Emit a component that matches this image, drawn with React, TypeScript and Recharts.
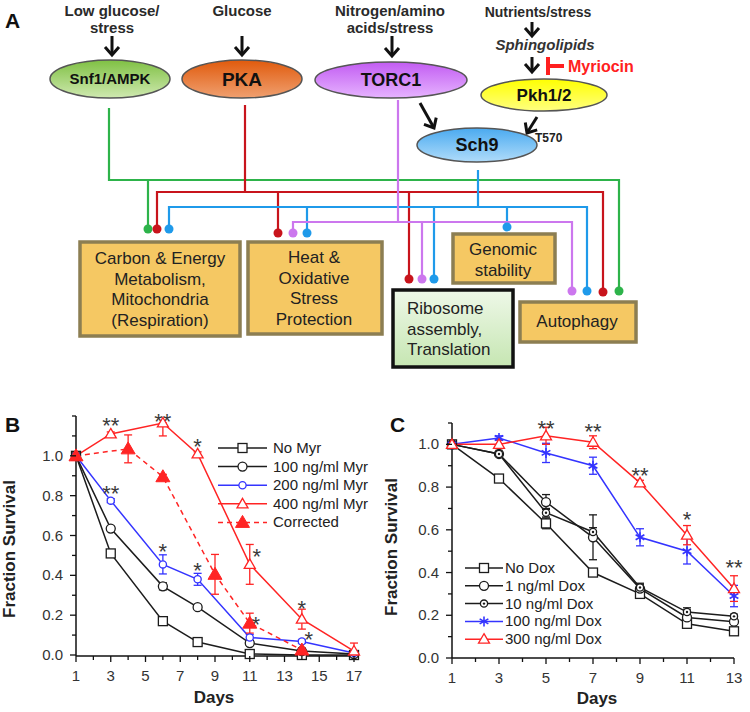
import React from "react";
import {
  ComposedChart,
  Line,
  Scatter,
  XAxis,
  YAxis,
  ErrorBar,
  Legend,
} from "recharts";

const FONT = "Arial, 'Liberation Sans', Helvetica, sans-serif";

type Err = number | [number, number] | null;

// ---- Panel B: myriocin ----
const daysB = [1, 3, 6, 8, 11, 14, 17];
const noMyr = [1.0, 0.51, 0.17, 0.065, 0.005, 0.0, 0.0];
const noMyrErr: Err[] = [null, 0.012, 0.015, 0.012, 0.01, null, null];
const myr100 = [1.0, 0.635, 0.345, 0.24, 0.06, 0.02, 0.005];
const myr100Err: Err[] = [null, 0.01, 0.018, 0.01, 0.01, null, null];
const myr200 = [1.0, 0.775, 0.455, 0.38, 0.088, 0.068, 0.01];
const myr200Err: Err[] = [null, 0.01, 0.048, 0.03, 0.015, 0.01, null];
const myr400 = [1.0, 1.11, 1.165, 1.01, 0.455, 0.18, 0.02];
const myr400Err: Err[] = [null, 0.01, [0.065, 0], 0.01, 0.1, 0.05, [0.02, 0.04]];
const daysCorr = [1, 4, 6, 9, 11, 14];
const corrected = [1.0, 1.035, 0.895, 0.405, 0.16, 0.025];
const correctedErr: Err[] = [null, 0.07, 0.012, 0.1, 0.05, 0.01];

const starsB = [
  { x: 3, y: 1.175, t: "**" },
  { x: 6, y: 1.2, t: "**" },
  { x: 8, y: 1.07, t: "*" },
  { x: 3, y: 0.835, t: "**" },
  { x: 6, y: 0.545, t: "*" },
  { x: 8, y: 0.45, t: "*" },
  { x: 11.4, y: 0.52, t: "*" },
  { x: 11.35, y: 0.18, t: "*" },
  { x: 14, y: 0.26, t: "*" },
  { x: 14.4, y: 0.105, t: "*" },
];

const xTicksB = [1, 2, 3, 4, 5, 6, 7, 8, 9, 10, 11, 12, 13, 14, 15, 16, 17];
const yTicksB = [0, 0.1, 0.2, 0.3, 0.4, 0.5, 0.6, 0.7, 0.8, 0.9, 1.0, 1.1, 1.2];

// ---- Panel C: doxorubicin ----
const daysC = [1, 3, 5, 7, 9, 11, 13];
const noDox = [1.0, 0.84, 0.63, 0.4, 0.3, 0.16, 0.125];
const noDoxErr: Err[] = [null, 0.012, 0.025, 0.012, 0.012, 0.012, 0.012];
const dox1 = [1.0, 0.955, 0.73, 0.565, 0.325, 0.19, 0.17];
const dox1Err: Err[] = [null, 0.01, 0.035, 0.105, 0.02, 0.035, 0.01];
const dox10 = [1.0, 0.955, 0.68, 0.59, 0.33, 0.215, 0.195];
const dox10Err: Err[] = [null, null, 0.02, 0.02, 0.02, 0.02, 0.01];
const dox100 = [1.0, 1.03, 0.96, 0.9, 0.565, 0.5, 0.29];
const dox100Err: Err[] = [null, 0.01, 0.045, 0.04, 0.04, 0.06, 0.05];
const dox300 = [1.0, 1.0, 1.04, 1.01, 0.82, 0.575, 0.325];
const dox300Err: Err[] = [null, 0.02, 0.04, 0.03, 0.012, 0.045, 0.06];

const starsC = [
  { x: 5, y: 1.1, t: "**" },
  { x: 7, y: 1.085, t: "**" },
  { x: 9, y: 0.88, t: "**" },
  { x: 11, y: 0.67, t: "*" },
  { x: 13, y: 0.445, t: "**" },
];

const xTicksC = [1, 2, 3, 4, 5, 6, 7, 8, 9, 10, 11, 12, 13];
const yTicksC = [0, 0.1, 0.2, 0.3, 0.4, 0.5, 0.6, 0.7, 0.8, 0.9, 1.0, 1.1];
const yLabelled = [0, 0.2, 0.4, 0.6, 0.8, 1.0];

const toRows = (days: number[], vals: number[], errs: Err[]) =>
  days.map((d, i) => ({ x: d, y: vals[i], e: errs[i] }));

const BLACK = "#1c1c1c";
const BLUE = "#3434ff";
const RED = "#ff2424";

const seriesB = [
  { name: "No Myr", rows: toRows(daysB, noMyr, noMyrErr), color: BLACK, marker: "square" },
  { name: "100 ng/ml Myr", rows: toRows(daysB, myr100, myr100Err), color: BLACK, marker: "circle" },
  { name: "200 ng/ml Myr", rows: toRows(daysB, myr200, myr200Err), color: BLUE, marker: "small" },
  { name: "400 ng/ml Myr", rows: toRows(daysB, myr400, myr400Err), color: RED, marker: "tri" },
  { name: "Corrected", rows: toRows(daysCorr, corrected, correctedErr), color: RED, marker: "triFill", dash: "5 4" },
];

const seriesC = [
  { name: "No Dox", rows: toRows(daysC, noDox, noDoxErr), color: BLACK, marker: "square" },
  { name: "1 ng/ml Dox", rows: toRows(daysC, dox1, dox1Err), color: BLACK, marker: "circle" },
  { name: "10 ng/ml Dox", rows: toRows(daysC, dox10, dox10Err), color: BLACK, marker: "dot" },
  { name: "100 ng/ml Dox", rows: toRows(daysC, dox100, dox100Err), color: BLUE, marker: "star" },
  { name: "300 ng/ml Dox", rows: toRows(daysC, dox300, dox300Err), color: RED, marker: "tri" },
];

const Marker = ({ kind, cx, cy, color }: any) => {
  if (cx == null || cy == null) return null;
  const sw = 1.3;
  switch (kind) {
    case "square":
      return <rect x={cx - 4.5} y={cy - 4.5} width={9} height={9} fill="#fff" stroke={color} strokeWidth={sw} />;
    case "circle":
      return <circle cx={cx} cy={cy} r={4.5} fill="#fff" stroke={color} strokeWidth={sw} />;
    case "small":
      return <circle cx={cx} cy={cy} r={3.6} fill="#fff" stroke={color} strokeWidth={sw} />;
    case "dot":
      return (
        <g>
          <circle cx={cx} cy={cy} r={3.6} fill="#fff" stroke={color} strokeWidth={sw} />
          <circle cx={cx} cy={cy} r={1.2} fill={color} />
        </g>
      );
    case "tri":
      return (
        <polygon
          points={`${cx},${cy - 5.5} ${cx + 5.5},${cy + 4} ${cx - 5.5},${cy + 4}`}
          fill="#fff"
          stroke={color}
          strokeWidth={sw}
        />
      );
    case "triFill":
      return (
        <polygon
          points={`${cx},${cy - 7} ${cx + 7},${cy + 5} ${cx - 7},${cy + 5}`}
          fill={color}
          stroke={color}
          strokeWidth={1}
        />
      );
    case "star": {
      const r = 5;
      return (
        <g stroke={color} strokeWidth={1.6}>
          <line x1={cx} y1={cy - r} x2={cx} y2={cy + r} />
          <line x1={cx - r * 0.87} y1={cy - r / 2} x2={cx + r * 0.87} y2={cy + r / 2} />
          <line x1={cx - r * 0.87} y1={cy + r / 2} x2={cx + r * 0.87} y2={cy - r / 2} />
        </g>
      );
    }
    default:
      return null;
  }
};

const XTick = (props: any) => {
  const { x, y, payload } = props;
  const v = payload.value;
  const major = v % 2 === 1;
  return (
    <g>
      <line x1={x} x2={x} y1={y} y2={y + (major ? 6 : 4)} stroke="#111" strokeWidth={1.3} />
      {major && (
        <text x={x} y={y + 25} textAnchor="middle" fontSize={15} fill="#333" fontFamily={FONT}>
          {v}
        </text>
      )}
    </g>
  );
};

const YTick = (props: any) => {
  const { x, y, payload } = props;
  const v = payload.value;
  const lab = yLabelled.some((l) => Math.abs(l - v) < 1e-6);
  return (
    <g>
      <line x1={x - (lab ? 6 : 4)} x2={x} y1={y} y2={y} stroke="#111" strokeWidth={1.3} />
      {lab && (
        <text x={x - 13} y={y + 5} textAnchor="end" fontSize={15} fill="#333" fontFamily={FONT}>
          {v.toFixed(1)}
        </text>
      )}
    </g>
  );
};

const LegendBox = ({ items, rowH, lineW, gap }: any) => (
  <svg width={175} height={items.length * rowH + 8} style={{ overflow: "visible" }}>
    {items.map((s: any, i: number) => {
      const cy = 10 + i * rowH;
      return (
        <g key={s.name}>
          <line x1={0} x2={lineW} y1={cy} y2={cy} stroke={s.color} strokeWidth={1.5} strokeDasharray={s.dash} />
          <Marker kind={s.marker} cx={lineW / 2} cy={cy} color={s.color} />
          <text x={lineW + gap} y={cy + 5} fontSize={15} fill="#222" fontFamily={FONT}>
            {s.name}
          </text>
        </g>
      );
    })}
  </svg>
);

const starShape = (p: any) => (
  <text x={p.cx} y={p.cy + 12.5} textAnchor="middle" fontSize={22} fill="#3a3a3a" fontFamily={FONT}>
    {p.payload.t}
  </text>
);

const SurvivalChart = ({ series, stars, xTicks, yTicks, domainX, domainY, margin, yWidth, xHeight, legendPos, rowH, lineW, gap, yTitle, xTitle }: any) => (
  <ComposedChart width={375} height={312} margin={margin}>
    <XAxis
      dataKey="x"
      type="number"
      domain={domainX}
      ticks={xTicks}
      interval={0}
      height={xHeight}
      tickSize={0}
      tickMargin={0}
      tickLine={false}
      axisLine={{ stroke: "#111", strokeWidth: 1.5 }}
      tick={(p: any) => <XTick {...p} />}
      label={() => (
        <text x={xTitle[0]} y={xTitle[1]} textAnchor="middle" fontSize={17} fontWeight="bold" fill="#222" fontFamily={FONT}>
          Days
        </text>
      )}
    />
    <YAxis
      type="number"
      domain={domainY}
      ticks={yTicks}
      interval={0}
      width={yWidth}
      tickSize={0}
      tickMargin={0}
      tickLine={false}
      axisLine={{ stroke: "#111", strokeWidth: 1.5 }}
      tick={(p: any) => <YTick {...p} />}
      label={() => (
        <text
          transform={`translate(${yTitle[0]},${yTitle[1]}) rotate(-90)`}
          textAnchor="middle"
          fontSize={17}
          fontWeight="bold"
          fill="#222"
          fontFamily={FONT}
        >
          Fraction Survival
        </text>
      )}
    />
    {series.map((s: any) => (
      <Line
        key={s.name}
        name={s.name}
        data={s.rows}
        dataKey="y"
        type="linear"
        stroke={s.color}
        strokeWidth={1.5}
        strokeDasharray={s.dash}
        isAnimationActive={false}
        activeDot={false}
        dot={(p: any) => <Marker key={`${s.name}-${p.index}`} kind={s.marker} cx={p.cx} cy={p.cy} color={s.color} />}
      >
        <ErrorBar dataKey="e" direction="y" width={4} stroke={s.color} strokeWidth={1.3} isAnimationActive={false} />
      </Line>
    ))}
    <Scatter data={stars} dataKey="y" isAnimationActive={false} shape={starShape} legendType="none" />
    <Legend
      layout="vertical"
      align="center"
      verticalAlign="middle"
      wrapperStyle={{ left: legendPos[0], top: legendPos[1], width: 175 }}
      content={() => <LegendBox items={series} rowH={rowH} lineW={lineW} gap={gap} />}
    />
  </ComposedChart>
);

// ---- Panel A diagram ----
const Arrow = ({ x1, y1, x2, y2 }: any) => {
  const ang = Math.atan2(y2 - y1, x2 - x1);
  const L = 8;
  const W = 7;
  const bx = x2 - L * Math.cos(ang);
  const by = y2 - L * Math.sin(ang);
  const px = -Math.sin(ang) * W;
  const py = Math.cos(ang) * W;
  return (
    <g stroke="#111" strokeWidth={3} fill="none">
      <line x1={x1} y1={y1} x2={x2 - Math.cos(ang) * 2} y2={y2 - Math.sin(ang) * 2} />
      <polyline points={`${bx + px},${by + py} ${x2},${y2} ${bx - px},${by - py}`} strokeLinejoin="miter" />
    </g>
  );
};

const Ellipse = ({ cx, cy, rx, ry, grad, label, size }: any) => (
  <g>
    <ellipse cx={cx} cy={cy} rx={rx} ry={ry} fill={`url(#${grad})`} stroke="#555" strokeWidth={1.5} />
    <text x={cx} y={cy + size * 0.36} textAnchor="middle" fontSize={size} fontWeight="bold" fill="#111" fontFamily={FONT}>
      {label}
    </text>
  </g>
);

const Box = ({ x, y, w, h, lines, fill, stroke, anchor, tx, ty }: any) => (
  <g>
    <rect x={x} y={y} width={w} height={h} fill={fill} stroke={stroke} strokeWidth={3.5} />
    {lines.map((l: string, i: number) => (
      <text
        key={l}
        x={tx}
        y={ty + i * 20.7}
        textAnchor={anchor}
        fontSize={17}
        fill="#222"
        fontFamily={FONT}
      >
        {l}
      </text>
    ))}
  </g>
);

const GREEN = "#2db34a";
const DRED = "#c8141c";
const LBLUE = "#1f9aea";
const PURPLE = "#cc77ee";

const Pathway = () => {
  const dot = (x: number, y: number, c: string) => <circle key={`${x}-${y}`} cx={x} cy={y} r={4.5} fill={c} />;
  return (
    <svg width={750} height={712} style={{ position: "absolute", left: 0, top: 0 }}>
      <defs>
        <linearGradient id="gGreen" x1="0" y1="0" x2="0" y2="1">
          <stop offset="0" stopColor="#7fc043" />
          <stop offset="1" stopColor="#cfe9b0" />
        </linearGradient>
        <linearGradient id="gOrange" x1="0" y1="0" x2="0" y2="1">
          <stop offset="0" stopColor="#e05a0c" />
          <stop offset="1" stopColor="#f0a070" />
        </linearGradient>
        <linearGradient id="gPurple" x1="0" y1="0" x2="0" y2="1">
          <stop offset="0" stopColor="#c25cf2" />
          <stop offset="1" stopColor="#e6b3ff" />
        </linearGradient>
        <linearGradient id="gYellow" x1="0" y1="0" x2="0" y2="1">
          <stop offset="0" stopColor="#ffff00" />
          <stop offset="1" stopColor="#ffff80" />
        </linearGradient>
        <linearGradient id="gBlue" x1="0" y1="0" x2="0" y2="1">
          <stop offset="0" stopColor="#4aaaf0" />
          <stop offset="1" stopColor="#b0dcfa" />
        </linearGradient>
        <linearGradient id="gRibo" x1="0" y1="0" x2="0" y2="1">
          <stop offset="0" stopColor="#eef8e8" />
          <stop offset="1" stopColor="#c6e6b2" />
        </linearGradient>
      </defs>

      <text x={5} y={28} fontSize={21} fontWeight="bold" fill="#111" fontFamily={FONT}>A</text>
      <text x={5} y={432} fontSize={21} fontWeight="bold" fill="#111" fontFamily={FONT}>B</text>
      <text x={390} y={432} fontSize={21} fontWeight="bold" fill="#111" fontFamily={FONT}>C</text>

      <g fontFamily={FONT} fontWeight="bold" fill="#2a2a2a" textAnchor="middle">
        <text x={112} y={16} fontSize={15}>Low glucose/</text>
        <text x={112} y={33} fontSize={15}>stress</text>
        <text x={242} y={16} fontSize={15}>Glucose</text>
        <text x={390} y={16} fontSize={15}>Nitrogen/amino</text>
        <text x={390} y={33} fontSize={15}>acids/stress</text>
        <text x={538} y={17} fontSize={14}>Nutrients/stress</text>
        <text x={545} y={50} fontSize={15} fontStyle="italic" fill="#333">Sphingolipids</text>
      </g>
      <text x={568} y={72} fontSize={16} fontWeight="bold" fill="#ff2020" fontFamily={FONT}>Myriocin</text>
      <g stroke="#ff2020" strokeWidth={4}>
        <line x1={548} y1={57} x2={548} y2={75} />
        <line x1={548} y1={66} x2={564} y2={66} />
      </g>

      <Arrow x1={112} y1={36} x2={112} y2={55} />
      <Arrow x1={242} y1={36} x2={242} y2={55} />
      <Arrow x1={392} y1={36} x2={392} y2={56} />
      <Arrow x1={532} y1={22} x2={532} y2={36} />
      <Arrow x1={532} y1={57} x2={532} y2={72} />
      <Arrow x1={420} y1={103} x2={434} y2={128} />
      <Arrow x1={537} y1={117} x2={527} y2={133} />

      {/* connectors */}
      <g fill="none" strokeWidth={2.2}>
        <path d="M109 108 V180 H619 V291 M148 180 V229" stroke={GREEN} />
        <path d="M245 105 V192 M157 229 V192 H603 V292 M278 192 V233 M409 192 V279" stroke={DRED} />
        <path d="M478 170 V207 M169 229 V207 H587 V291 M307 207 V233 M434 207 V279 M507 207 V227" stroke={LBLUE} />
        <path d="M398 100 V222 M293 233 V222 H572 V291 M422 222 V279" stroke={PURPLE} />
      </g>
      {[
        dot(148, 229, GREEN), dot(619, 291, GREEN),
        dot(157, 229, DRED), dot(278, 233, DRED), dot(409, 279, DRED), dot(603, 292, DRED),
        dot(169, 229, LBLUE), dot(307, 233, LBLUE), dot(434, 279, LBLUE), dot(507, 227, LBLUE), dot(587, 291, LBLUE),
        dot(293, 233, PURPLE), dot(422, 279, PURPLE), dot(572, 291, PURPLE),
      ]}

      <Ellipse cx={110} cy={79} rx={60} ry={19} grad="gGreen" label="Snf1/AMPK" size={15} />
      <Ellipse cx={242} cy={79} rx={60} ry={19} grad="gOrange" label="PKA" size={19} />
      <Ellipse cx={391} cy={80} rx={76} ry={18} grad="gPurple" label="TORC1" size={18} />
      <Ellipse cx={544} cy={95} rx={63} ry={16} grad="gYellow" label="Pkh1/2" size={17} />
      <Ellipse cx={477} cy={145} rx={60} ry={17} grad="gBlue" label="Sch9" size={18} />
      <text x={535} y={142} fontSize={12} fontWeight="bold" fill="#222" fontFamily={FONT}>T570</text>

      <Box x={80} y={242} w={160} h={94} fill="#f5c863" stroke="#8c7e52" anchor="middle" tx={160}
        ty={264} lines={["Carbon & Energy", "Metabolism,", "Mitochondria", "(Respiration)"]} />
      <Box x={248} y={242} w={134} h={92} fill="#f5c863" stroke="#8c7e52" anchor="middle" tx={314}
        ty={263} lines={["Heat &", "Oxidative", "Stress", "Protection"]} />
      <Box x={393} y={290} w={120} h={77} fill="url(#gRibo)" stroke="#111" anchor="start" tx={407}
        ty={314} lines={["Ribosome", "assembly,", "Translation"]} />
      <Box x={453} y={234} w={102} h={49} fill="#f5c863" stroke="#8c7e52" anchor="middle" tx={503}
        ty={255} lines={["Genomic", "stability"]} />
      <Box x={520} y={302} w={116} h={40} fill="#f5c863" stroke="#8c7e52" anchor="middle" tx={577}
        ty={327} lines={["Autophagy"]} />
    </svg>
  );
};

export default function App() {
  return (
    <div style={{ position: "absolute", left: 0, top: 0, width: 750, height: 712, background: "#fff", fontFamily: FONT }}>
      <Pathway />
      <div style={{ position: "absolute", left: 0, top: 400 }}>
        <SurvivalChart
          series={seriesB}
          stars={starsB}
          xTicks={xTicksB}
          yTicks={yTicksB}
          domainX={[1, 17]}
          domainY={[0, 1.2]}
          margin={{ top: 16, right: 21, bottom: 0, left: 0 }}
          yWidth={76}
          xHeight={56}
          legendPos={[218, 38]}
          rowH={18.6}
          lineW={49}
          gap={6}
          yTitle={[15, 149]}
          xTitle={[214, 303]}
        />
      </div>
      <div style={{ position: "absolute", left: 375, top: 400 }}>
        <SurvivalChart
          series={seriesC}
          stars={starsC}
          xTicks={xTicksC}
          yTicks={yTicksC}
          domainX={[1, 13]}
          domainY={[0, 1.1]}
          margin={{ top: 23, right: 16, bottom: 0, left: 0 }}
          yWidth={77}
          xHeight={54}
          legendPos={[90, 158]}
          rowH={17.8}
          lineW={38}
          gap={2}
          yTitle={[22, 147]}
          xTitle={[222, 304]}
        />
      </div>
    </div>
  );
}
